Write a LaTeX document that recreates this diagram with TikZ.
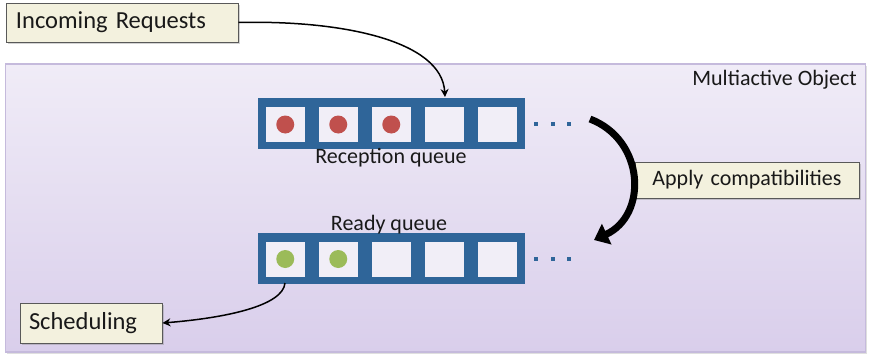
\documentclass[tikz,border=0pt]{standalone}
\usepackage{fontspec}
\setmainfont{Carlito}
\usetikzlibrary{arrows.meta,shadows}
\definecolor{qblue}{HTML}{2F6599}
\definecolor{cellbg}{HTML}{F1EEF7}
\definecolor{beige}{HTML}{F3F1DE}
\definecolor{reddot}{HTML}{C0504D}
\definecolor{greendot}{HTML}{9BBB59}
\definecolor{lavtop}{HTML}{F0ECF7}
\definecolor{lavbot}{HTML}{D9CEEB}
\definecolor{lavborder}{HTML}{C5BADC}
\begin{document}
\begin{tikzpicture}[x=1pt,y=-1pt,
  txt/.style={font=\fontsize{22}{25}\selectfont, text=black!90},
  big/.style={font=\fontsize{24.5}{28}\selectfont},
  lbl/.style={txt, draw=black!65, line width=1pt, fill=beige, inner ysep=0pt,
    drop shadow={shadow xshift=1.5pt, shadow yshift=-1.5pt, opacity=0.35}},
  qouter/.style={fill=qblue, inner sep=0pt, minimum width=267pt, minimum height=51pt},
  qcell/.style={fill=cellbg, inner sep=0pt, minimum width=38.5pt, minimum height=35pt},
  qdot/.style={fill=qblue, inner sep=0pt, minimum size=4pt},
  ball/.style={circle, inner sep=0pt, minimum size=18pt},
  conn/.style={draw=black, line width=1.5pt, -{Stealth[length=8pt,width=8pt]}}
]
\useasboundingbox (0,0) rectangle (871,359);
% container
\node[draw=lavborder, line width=1.5pt, top color=lavtop, bottom color=lavbot,
  minimum width=860pt, minimum height=288pt, inner sep=0pt,
  drop shadow={shadow xshift=1.5pt, shadow yshift=-1.5pt, opacity=0.25}] (mo) at (435.5,208) {};
\node[txt, anchor=north east, inner sep=0pt] (mot) at (857,70) {Multiactive Object};

% reception queue
\node[qouter] (rq) at (391.5,123.5) {};
\foreach \i in {1,...,5} {
  \node[qcell] (rq\i) at ({266+19.25+53*(\i-1)},124.5) {};
}
\foreach \i in {1,2,3} { \node[ball, fill=reddot] (rb\i) at (rq\i) {}; }
\node[txt, inner sep=0pt] (rqt) at (391,158) {Reception queue};
\node[qdot] (rd1) at (536,124) {};
\node[qdot] (rd2) at (553,124) {};
\node[qdot] (rd3) at (569,124) {};

% ready queue
\node[qouter] (yq) at (391.5,258) {};
\foreach \i in {1,...,5} {
  \node[qcell] (yq\i) at ({266+19.25+53*(\i-1)},259) {};
}
\foreach \i in {1,2} { \node[ball, fill=greendot] (gb\i) at (yq\i) {}; }
\node[txt, inner sep=0pt] (yqt) at (389,225) {Ready queue};
\node[qdot] (yd1) at (536,259) {};
\node[qdot] (yd2) at (553,259) {};
\node[qdot] (yd3) at (569,259) {};

% labels
\node[lbl, big, minimum width=232pt, minimum height=39pt, text width=212pt, align=left, inner xsep=10pt] (inc) at (122,22.5) {Incoming Requests};
\node[lbl, big, minimum width=142pt, minimum height=40pt, text width=124pt, align=left, inner xsep=9pt] (sch) at (91,323) {Scheduling};
\node[lbl, minimum width=224pt, minimum height=36pt, text width=204pt, align=center, inner xsep=10pt] (app) at (747,180) {Apply compatibilities};

% connectors
\coordinate (rqin) at (445,97);
\draw[conn] (inc.east) .. controls (340,20) and (442,40) .. (rqin);
\coordinate (yqout) at (285,283);
\draw[conn] (yqout) .. controls (283,306) and (225,318) .. (sch.east);
\coordinate (apA) at (590,119);
\coordinate (apB) at (594,240);
\draw[line width=7pt, -{Triangle[length=14pt,width=22pt]}] (apA) .. controls (645,140) and (648,215) .. (apB);
\end{tikzpicture}
\end{document}
